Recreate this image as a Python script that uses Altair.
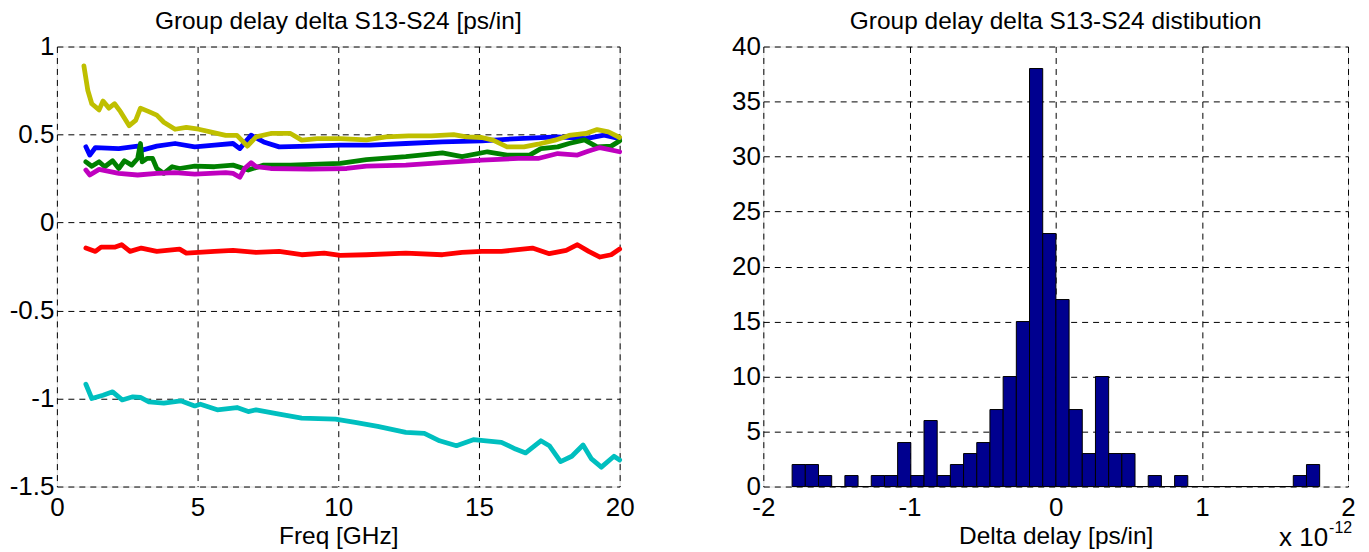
import altair as alt
import pandas as pd

FONT = "Liberation Sans"

# ---------------- left plot data (frequency GHz, delta ps/in) ----------------
blue_f = [1.03, 1.17, 1.37, 2.2, 2.87, 3.0, 3.55, 4.2, 4.9, 5.6, 6.26, 6.5, 6.9, 7.35, 7.9, 9.0, 10.07, 11.15, 12.4, 13.7, 15.1, 16.4, 17.8, 18.8, 19.45, 20.0]
blue_v = [0.43, 0.383, 0.426, 0.42, 0.434, 0.41, 0.434, 0.449, 0.43, 0.44, 0.449, 0.42, 0.496, 0.458, 0.43, 0.434, 0.44, 0.44, 0.449, 0.458, 0.464, 0.477, 0.487, 0.477, 0.496, 0.477]

green_f = [1.03, 1.24, 1.5, 1.7, 1.98, 2.2, 2.4, 2.66, 2.87, 2.97, 3.03, 3.2, 3.4, 3.55, 3.8, 4.1, 4.36, 4.9, 5.6, 6.26, 6.8, 7.35, 8.3, 10.07, 11.0, 12.4, 13.7, 14.4, 15.3, 16.0, 16.8, 17.2, 17.8, 18.2, 18.75, 19.2, 19.7, 20.0]
green_v = [0.345, 0.32, 0.345, 0.317, 0.351, 0.307, 0.351, 0.326, 0.364, 0.449, 0.345, 0.364, 0.364, 0.307, 0.279, 0.317, 0.307, 0.32, 0.317, 0.326, 0.298, 0.326, 0.326, 0.336, 0.358, 0.374, 0.396, 0.374, 0.402, 0.383, 0.383, 0.42, 0.43, 0.449, 0.47, 0.43, 0.434, 0.464]

red_f = [1.03, 1.37, 1.57, 2.05, 2.3, 2.6, 3.0, 3.55, 4.36, 4.6, 5.6, 6.26, 7.08, 7.9, 8.7, 9.5, 10.07, 11.0, 12.4, 13.7, 14.4, 15.1, 15.8, 16.9, 17.5, 18.1, 18.5, 18.9, 19.3, 19.7, 20.0]
red_v = [-0.145, -0.164, -0.14, -0.14, -0.126, -0.164, -0.145, -0.164, -0.151, -0.174, -0.164, -0.158, -0.17, -0.164, -0.183, -0.174, -0.187, -0.183, -0.174, -0.183, -0.17, -0.164, -0.164, -0.145, -0.177, -0.158, -0.126, -0.164, -0.196, -0.183, -0.151]

cyan_f = [1.03, 1.24, 1.64, 1.98, 2.32, 2.7, 2.97, 3.27, 3.8, 4.4, 4.9, 5.1, 5.7, 6.4, 6.8, 7.08, 7.9, 8.7, 9.9, 10.6, 11.4, 12.4, 13.06, 13.6, 14.2, 14.8, 15.8, 16.3, 16.66, 17.2, 17.5, 17.9, 18.3, 18.7, 19.0, 19.35, 19.8, 20.0]
cyan_v = [-0.919, -1.0, -0.981, -0.962, -1.008, -0.99, -0.994, -1.019, -1.026, -1.013, -1.042, -1.032, -1.064, -1.051, -1.074, -1.064, -1.089, -1.111, -1.117, -1.136, -1.158, -1.192, -1.198, -1.24, -1.268, -1.234, -1.249, -1.287, -1.309, -1.24, -1.268, -1.358, -1.328, -1.264, -1.343, -1.39, -1.328, -1.349]

magenta_f = [1.03, 1.17, 1.5, 2.2, 2.87, 3.55, 4.2, 4.9, 6.0, 6.26, 6.5, 6.67, 6.9, 7.08, 7.6, 9.0, 10.3, 11.0, 12.4, 13.7, 15.1, 16.4, 17.1, 17.8, 18.5, 18.9, 19.3, 20.0]
magenta_v = [0.298, 0.27, 0.302, 0.279, 0.27, 0.279, 0.283, 0.275, 0.283, 0.279, 0.257, 0.307, 0.34, 0.317, 0.307, 0.304, 0.307, 0.32, 0.326, 0.34, 0.355, 0.364, 0.364, 0.392, 0.383, 0.406, 0.426, 0.402]

yellow_f = [0.96, 1.1, 1.24, 1.5, 1.64, 1.85, 2.05, 2.26, 2.57, 2.8, 2.97, 3.27, 3.55, 3.8, 4.2, 4.6, 5.04, 5.45, 6.0, 6.4, 6.77, 7.08, 7.6, 8.3, 8.7, 9.25, 10.07, 11.0, 11.7, 12.5, 13.3, 14.1, 14.55, 15.1, 15.5, 16.0, 16.6, 17.1, 17.7, 18.2, 18.8, 19.2, 19.6, 20.0]
yellow_v = [0.89, 0.75, 0.675, 0.64, 0.69, 0.65, 0.675, 0.63, 0.55, 0.58, 0.65, 0.63, 0.61, 0.57, 0.53, 0.54, 0.53, 0.515, 0.495, 0.495, 0.434, 0.487, 0.506, 0.506, 0.468, 0.477, 0.477, 0.47, 0.487, 0.492, 0.492, 0.5, 0.487, 0.483, 0.468, 0.43, 0.43, 0.445, 0.468, 0.495, 0.506, 0.528, 0.515, 0.483]

series = [
    (blue_f, blue_v, "#0000FF"),
    (green_f, green_v, "#008000"),
    (red_f, red_v, "#FF0000"),
    (cyan_f, cyan_v, "#00BFBF"),
    (magenta_f, magenta_v, "#BF00BF"),
    (yellow_f, yellow_v, "#BFBF00"),
]

# ---------------- right plot data (histogram, x 1e-12) ----------------
hist_counts = [2, 2, 1, 0, 1, 0, 1, 1, 4, 1, 6, 1, 2, 3, 4, 7, 10, 15, 38, 23,
               17, 7, 3, 10, 3, 3, 0, 1, 0, 1, 0, 0, 0, 0, 0, 0, 0, 0, 1, 2]
hist_lo = -1.803
hist_hi = 1.806

left_xticks = [0, 5, 10, 15, 20]
left_yticks = [-1.5, -1, -0.5, 0, 0.5, 1]
right_xticks = [-2, -1, 0, 1, 2]
right_yticks = [0, 5, 10, 15, 20, 25, 30, 35, 40]

LABEL_SIZE = 26
TITLE_SIZE = 24.5
AXTITLE_SIZE = 24.5
LBL_EXPR = "'' + datum.value"


def xaxis(title, values):
    return alt.Axis(title=title, values=values, grid=True, gridDash=[6, 5], gridColor="#000000",
                    gridOpacity=1, gridWidth=1, ticks=False, domain=False, labelFont=FONT,
                    labelFontSize=LABEL_SIZE, labelColor="#000", labelPadding=8, titleFont=FONT,
                    titleFontSize=AXTITLE_SIZE, titleFontWeight="normal", titleColor="#000",
                    titlePadding=4, labelFlush=False, labelExpr=LBL_EXPR)


def yaxis(values):
    return alt.Axis(title=None, values=values, grid=True, gridDash=[6, 5], gridColor="#000000",
                    gridOpacity=1, gridWidth=1, ticks=False, domain=False, labelFont=FONT,
                    labelFontSize=LABEL_SIZE, labelColor="#000", labelPadding=3, labelFlush=False,
                    labelExpr=LBL_EXPR)


layers = []
for fs, vs, col in series:
    df = pd.DataFrame({"f": fs, "v": vs})
    layers.append(
        alt.Chart(df).mark_line(color=col, strokeWidth=4.8, strokeCap="round", strokeJoin="round").encode(
            x=alt.X("f:Q", scale=alt.Scale(domain=[0, 20], nice=False), axis=xaxis("Freq [GHz]", left_xticks)),
            y=alt.Y("v:Q", scale=alt.Scale(domain=[-1.5, 1], nice=False), axis=yaxis(left_yticks)),
        )
    )

left = alt.layer(*layers).properties(
    width=564, height=441,
    title=alt.TitleParams("Group delay delta S13-S24 [ps/in]", font=FONT, fontSize=TITLE_SIZE,
                          fontWeight="normal", color="#000", offset=-1),
)

n = len(hist_counts)
w = (hist_hi - hist_lo) / n
hist_df = pd.DataFrame({
    "x0": [hist_lo + i * w for i in range(n)],
    "x1": [hist_lo + (i + 1) * w for i in range(n)],
    "count": hist_counts,
})

bars = alt.Chart(hist_df).mark_rect(color="#00008F", stroke="#000000", strokeWidth=1).encode(
    x=alt.X("x0:Q", scale=alt.Scale(domain=[-2, 2], nice=False), axis=xaxis("Delta delay [ps/in]", right_xticks)),
    x2="x1:Q",
    y=alt.Y("count:Q", scale=alt.Scale(domain=[0, 40], nice=False), axis=yaxis(right_yticks)),
    y2=alt.datum(0),
)

exp_df = pd.DataFrame({"t": ["x 10"], "e": ["-12"]})
exp_main = alt.Chart(exp_df).mark_text(font=FONT, fontSize=LABEL_SIZE, align="right", baseline="alphabetic", color="#000").encode(
    x=alt.value(566), y=alt.value(501), text="t:N")
exp_sup = alt.Chart(exp_df).mark_text(font=FONT, fontSize=16, align="left", baseline="alphabetic", color="#000").encode(
    x=alt.value(567), y=alt.value(488), text="e:N")

right = alt.layer(bars, exp_main, exp_sup).properties(
    width=586, height=441,
    title=alt.TitleParams("Group delay delta S13-S24 distibution", font=FONT, fontSize=TITLE_SIZE,
                          fontWeight="normal", color="#000", offset=-1),
)

chart = alt.hconcat(left, right, spacing=96).properties(
    padding={"top": 0, "left": 0, "right": 5, "bottom": 0}
).configure_view(
    stroke="#000000", strokeWidth=1.5
).configure(background="#ffffff")

chart.save("out.html", embed_options={"renderer": "svg", "actions": False})
